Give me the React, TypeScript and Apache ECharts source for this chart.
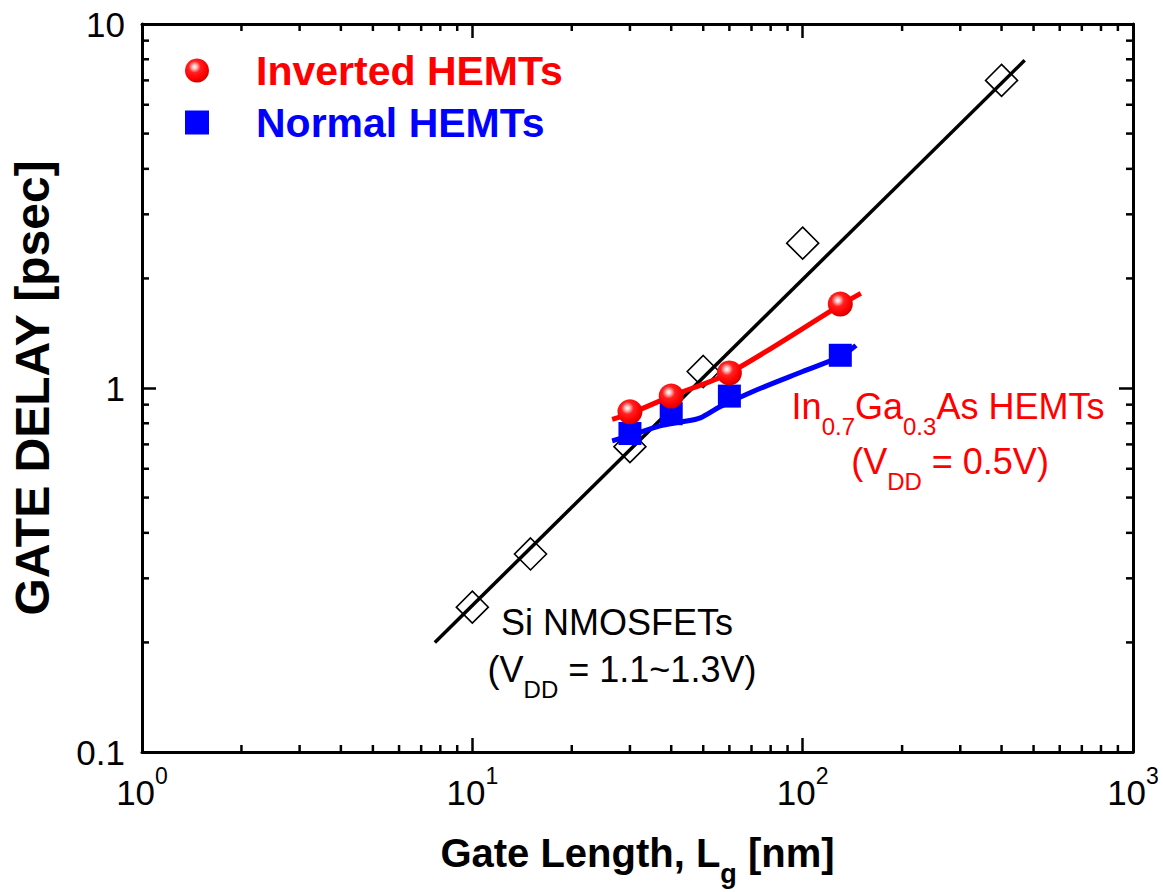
import React, { useEffect, useRef } from "react";
import * as echarts from "echarts";

const FONT = '"Liberation Sans", Arial, Helvetica, sans-serif';

// Si NMOSFETs: measured gate delay versus gate length
const siLength = [10, 15, 30, 50, 100, 400];
const siDelay = [0.25, 0.35, 0.69, 1.11, 2.5, 7.0];
// power-law trend line through the Si points
const siTrendLength = [7.7, 470];
const siTrendDelay = [0.2, 7.95];

// In0.7Ga0.3As HEMTs
const hemtLength = [30, 40, 60, 130];
const invertedDelay = [0.86, 0.95, 1.1, 1.7];
const normalDelay = [0.75, 0.85, 0.95, 1.23];

// guide curves drawn through the HEMT points
const invertedCurveLength = [26.5, 30, 40, 60, 130, 150];
const invertedCurveDelay = [0.82, 0.85, 0.95, 1.1, 1.69, 1.82];
const normalCurveLength = [26.5, 30, 37, 43, 49, 56, 71, 100, 130, 145];
const normalCurveDelay = [0.716, 0.74, 0.787, 0.807, 0.828, 0.887, 0.98, 1.11, 1.22, 1.31];

// minor tick positions of the log axes
const xMinorTicks = [2, 3, 4, 5, 6, 7, 8, 9, 20, 30, 40, 50, 60, 70, 80, 90, 200, 300, 400, 500, 600, 700, 800, 900];
const yMinorTicks = [0.2, 0.3, 0.4, 0.5, 0.6, 0.7, 0.8, 0.9, 2, 3, 4, 5, 6, 7, 8, 9];

const INVERTED = "Inverted HEMTs";
const NORMAL = "Normal HEMTs";

const zip = (xs: number[], ys: number[]) => xs.map((x, i) => [x, ys[i]]);

const sphere = new echarts.graphic.RadialGradient(0.4, 0.35, 0.65, [
  { offset: 0, color: "#ffffff" },
  { offset: 0.13, color: "#ffc8c8" },
  { offset: 0.38, color: "#ff2020" },
  { offset: 0.75, color: "#ff0000" },
  { offset: 1, color: "#d40000" },
]);

const tickStyle = { stroke: "#000", lineWidth: 2.5 };

function minorTickSeries(values: number[], horizontal: boolean) {
  return {
    type: "custom",
    xAxisIndex: 0,
    yAxisIndex: 0,
    silent: true,
    clip: false,
    z: 5,
    data: values.map((v) => (horizontal ? [v, 1] : [10, v])),
    renderItem: (params: any, api: any) => {
      const cs = params.coordSys;
      if (horizontal) {
        const x = api.coord([api.value(0), 1])[0];
        return {
          type: "group",
          children: [
            { type: "line", shape: { x1: x, y1: cs.y + cs.height, x2: x, y2: cs.y + cs.height - 7 }, style: tickStyle },
            { type: "line", shape: { x1: x, y1: cs.y, x2: x, y2: cs.y + 7 }, style: tickStyle },
          ],
        };
      }
      const y = api.coord([10, api.value(1)])[1];
      return {
        type: "group",
        children: [
          { type: "line", shape: { x1: cs.x, y1: y, x2: cs.x + 7, y2: y }, style: tickStyle },
          { type: "line", shape: { x1: cs.x + cs.width, y1: y, x2: cs.x + cs.width - 7, y2: y }, style: tickStyle },
        ],
      };
    },
  };
}

const axisLine = { show: true, lineStyle: { color: "#000", width: 3 } };
const majorTick = { show: true, inside: true, length: 14, lineStyle: { color: "#000", width: 2.5 } };

export default function App() {
  const ref = useRef<HTMLDivElement>(null);

  useEffect(() => {
    if (!ref.current) return;
    const chart = echarts.init(ref.current, undefined, { renderer: "svg" });

    const annotRich = {
      m: { fontFamily: FONT, fontSize: 36, verticalAlign: "top", lineHeight: 50 },
      d: { fontFamily: FONT, fontSize: 24, verticalAlign: "bottom" },
    };

    chart.setOption({
      animation: false,
      backgroundColor: "#fff",
      grid: { left: 141, top: 24, width: 992, height: 730, containLabel: false },
      legend: {
        data: [INVERTED, NORMAL],
        orient: "vertical",
        left: 180,
        top: 45,
        itemWidth: 24,
        itemHeight: 24,
        itemGap: 11,
        selectedMode: false,
        formatter: (name: string) => (name === INVERTED ? `{r|${name}}` : `{b|${name}}`),
        textStyle: {
          rich: {
            r: { color: "#ff0000", fontFamily: FONT, fontWeight: "bold", fontSize: 41, padding: [0, 0, 0, 42] },
            b: { color: "#0000ff", fontFamily: FONT, fontWeight: "bold", fontSize: 41, padding: [0, 0, 0, 42] },
          },
        },
      },
      xAxis: [
        {
          type: "log",
          logBase: 10,
          min: 1,
          max: 1000,
          position: "bottom",
          axisLine,
          axisTick: majorTick,
          splitLine: { show: false },
          axisLabel: {
            margin: 12,
            formatter: (v: number) => `{a|10}{s|${Math.round(Math.log10(v))}}`,
            rich: {
              a: { fontFamily: FONT, fontSize: 35, color: "#000", verticalAlign: "bottom" },
              s: { fontFamily: FONT, fontSize: 23, color: "#000", verticalAlign: "top", lineHeight: 46 },
            },
          },
          name: "{t|Gate Length, L}{g|g}{t| [nm]}",
          nameLocation: "middle",
          nameGap: 81,
          nameTextStyle: {
            rich: {
              t: { fontFamily: FONT, fontSize: 40, fontWeight: "bold", color: "#000", verticalAlign: "top", lineHeight: 54 },
              g: { fontFamily: FONT, fontSize: 27, fontWeight: "bold", color: "#000", verticalAlign: "bottom" },
            },
          },
        },
        {
          type: "log",
          logBase: 10,
          min: 1,
          max: 1000,
          position: "top",
          axisLine,
          axisTick: majorTick,
          axisLabel: { show: false },
          splitLine: { show: false },
        },
      ],
      yAxis: [
        {
          type: "log",
          logBase: 10,
          min: 0.1,
          max: 10,
          position: "left",
          axisLine,
          axisTick: majorTick,
          splitLine: { show: false },
          axisLabel: {
            margin: 17,
            fontFamily: FONT,
            fontSize: 35,
            color: "#000",
            formatter: (v: number) => String(v),
          },
          name: "GATE DELAY [psec]",
          nameLocation: "middle",
          nameGap: 86,
          nameTextStyle: { fontFamily: FONT, fontSize: 48, fontWeight: "bold", color: "#000" },
        },
        {
          type: "log",
          logBase: 10,
          min: 0.1,
          max: 10,
          position: "right",
          axisLine,
          axisTick: majorTick,
          axisLabel: { show: false },
          splitLine: { show: false },
        },
      ],
      series: [
        minorTickSeries(xMinorTicks, true),
        minorTickSeries(yMinorTicks, false),
        {
          name: "Si trend",
          type: "line",
          data: zip(siTrendLength, siTrendDelay),
          showSymbol: false,
          lineStyle: { color: "#000", width: 3.5 },
          z: 2,
        },
        {
          name: "Si NMOSFETs",
          type: "scatter",
          data: zip(siLength, siDelay),
          symbol: "diamond",
          symbolSize: [32, 32],
          itemStyle: { color: "rgba(0,0,0,0)", borderColor: "#000", borderWidth: 1.6, opacity: 1 },
          z: 3,
        },
        {
          name: "Inverted curve",
          type: "line",
          data: zip(invertedCurveLength, invertedCurveDelay),
          smooth: 0.3,
          showSymbol: false,
          lineStyle: { color: "#ff0000", width: 5 },
          z: 4,
        },
        {
          name: "Normal curve",
          type: "line",
          data: zip(normalCurveLength, normalCurveDelay),
          smooth: 0.3,
          showSymbol: false,
          lineStyle: { color: "#0000ff", width: 5 },
          z: 4,
        },
        {
          name: NORMAL,
          type: "scatter",
          data: zip(hemtLength, normalDelay),
          symbol: "rect",
          symbolSize: 23,
          itemStyle: { color: "#0000ff", opacity: 1 },
          z: 6,
        },
        {
          name: INVERTED,
          type: "scatter",
          data: zip(hemtLength, invertedDelay),
          symbol: "circle",
          symbolSize: 25,
          itemStyle: { color: sphere, opacity: 1 },
          z: 7,
        },
      ],
      graphic: [
        {
          type: "text",
          x: 617,
          y: 622,
          style: { text: "Si NMOSFETs", fontFamily: FONT, fontSize: 36, fill: "#000", textAlign: "center", textVerticalAlign: "middle" },
        },
        {
          type: "text",
          x: 622,
          y: 651,
          style: { text: "{m|(V}{d|DD}{m| = 1.1~1.3V)}", rich: annotRich, fill: "#000", textAlign: "center", textVerticalAlign: "top" },
        },
        {
          type: "text",
          x: 948,
          y: 388,
          style: {
            text: "{m|In}{d|0.7}{m|Ga}{d|0.3}{m|As HEMTs}",
            rich: annotRich,
            fill: "#ff0000",
            textAlign: "center",
            textVerticalAlign: "top",
          },
        },
        {
          type: "text",
          x: 950,
          y: 443,
          style: { text: "{m|(V}{d|DD}{m| = 0.5V)}", rich: annotRich, fill: "#ff0000", textAlign: "center", textVerticalAlign: "top" },
        },
      ],
    });

    return () => chart.dispose();
  }, []);

  return <div ref={ref} style={{ position: "fixed", left: 0, top: 0, width: 1163, height: 892 }} />;
}
